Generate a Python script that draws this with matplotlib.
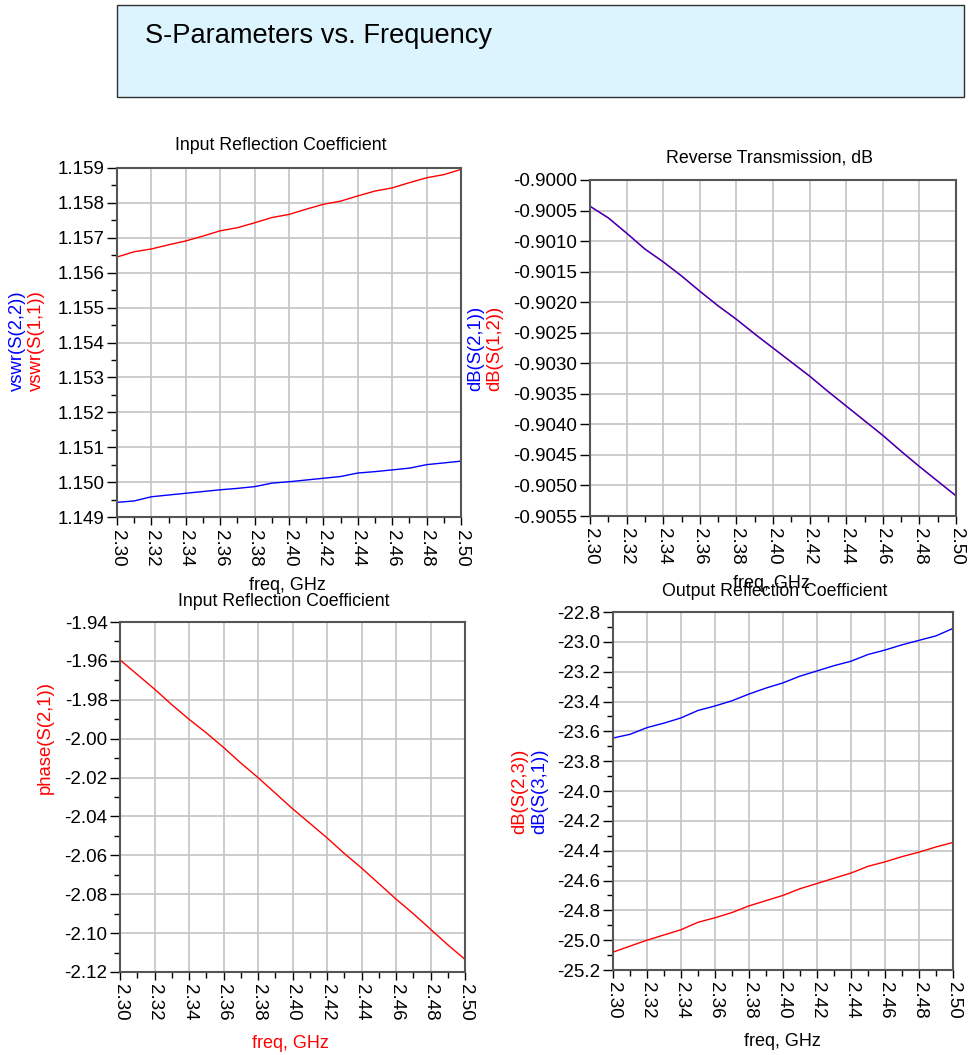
import numpy as np
from matplotlib import pyplot as plt
from matplotlib.patches import Rectangle
from matplotlib.ticker import MultipleLocator, FormatStrFormatter

plt.rcParams['font.family'] = ['Liberation Sans', 'DejaVu Sans']
plt.rcParams['font.size'] = 13
plt.rcParams['xtick.direction'] = 'out'
plt.rcParams['ytick.direction'] = 'out'

# data (freq in GHz)
freq = [2.30, 2.31, 2.32, 2.33, 2.34, 2.35, 2.36, 2.37, 2.38, 2.39, 2.40,
        2.41, 2.42, 2.43, 2.44, 2.45, 2.46, 2.47, 2.48, 2.49, 2.50]

vswr_s11 = [1.15645, 1.15660, 1.15668, 1.15680, 1.15691, 1.15705, 1.15720,
            1.15729, 1.15743, 1.15758, 1.15767, 1.15782, 1.15796, 1.15805,
            1.15820, 1.15834, 1.15843, 1.15858, 1.15872, 1.15881, 1.15896]
vswr_s22 = [1.14942, 1.14946, 1.14958, 1.14963, 1.14968, 1.14973, 1.14978,
            1.14982, 1.14987, 1.14997, 1.15001, 1.15006, 1.15011, 1.15016,
            1.15026, 1.15030, 1.15035, 1.15040, 1.15050, 1.15055, 1.15060]

db_s21 = [-0.90043, -0.90062, -0.90087, -0.90113, -0.90134, -0.90157, -0.90182,
          -0.90206, -0.90228, -0.90252, -0.90275, -0.90298, -0.90321, -0.90346,
          -0.90370, -0.90394, -0.90418, -0.90444, -0.90469, -0.90493, -0.90517]
db_s12 = list(db_s21)

phase_s21 = [-1.9595, -1.9670, -1.9745, -1.9825, -1.9900, -1.9970, -2.0045,
             -2.0125, -2.0200, -2.0280, -2.0360, -2.0435, -2.0510, -2.0590,
             -2.0665, -2.0745, -2.0825, -2.0900, -2.0980, -2.1060, -2.1135]

db_s31 = [-23.645, -23.620, -23.575, -23.545, -23.510, -23.460, -23.430,
          -23.395, -23.350, -23.310, -23.275, -23.230, -23.195, -23.160,
          -23.130, -23.085, -23.055, -23.020, -22.990, -22.960, -22.910]
db_s23 = [-25.080, -25.040, -25.000, -24.965, -24.930, -24.880, -24.850,
          -24.815, -24.770, -24.735, -24.700, -24.655, -24.620, -24.585,
          -24.550, -24.505, -24.475, -24.440, -24.410, -24.375, -24.345]

RED = '#ff0000'
BLUE = '#0000ff'
W, H = 968, 1055
TFS = 12.8   # plot titles
LFS = 13.0   # axis labels
YFS = 13.3   # y labels

fig = plt.figure(figsize=(9.68, 10.55), dpi=100)


def fx(px):
    return px / W


def fy(py):
    return 1 - py / H


def setup(ax, ylim, ymaj, ymin, yfmt):
    ax.set_xlim(2.30, 2.50)
    ax.set_ylim(*ylim)
    ax.xaxis.set_major_locator(MultipleLocator(0.02))
    ax.xaxis.set_minor_locator(MultipleLocator(0.01))
    ax.xaxis.set_major_formatter(FormatStrFormatter('%.2f'))
    ax.yaxis.set_major_locator(MultipleLocator(ymaj))
    if ymin:
        ax.yaxis.set_minor_locator(MultipleLocator(ymin))
    ax.yaxis.set_major_formatter(FormatStrFormatter(yfmt))
    ax.grid(True, which='major', color='#c4c4c4', lw=1.2)
    ax.set_axisbelow(True)
    for s in ax.spines.values():
        s.set_color('#555555')
        s.set_linewidth(1.5)
    ax.tick_params(axis='x', which='major', length=6, width=1, labelrotation=-90, pad=3, labelsize=13.5)
    ax.tick_params(axis='x', which='minor', length=4, width=1)
    ax.tick_params(axis='y', which='major', length=7, width=1, pad=2, labelsize=13.5)
    ax.tick_params(axis='y', which='minor', length=4, width=1)
    for lab in ax.get_xticklabels():
        lab.set_va('top')
        lab.set_ha('center')


# title box
fig.patches.append(Rectangle((fx(117), fy(97)), fx(964) - fx(117), fy(5) - fy(97),
                             transform=fig.transFigure, facecolor='#dcf4fd',
                             edgecolor='#303030', lw=1.0))
fig.text(fx(145), fy(36), 'S-Parameters vs. Frequency', fontsize=19.6, va='center', ha='left')

# top left: VSWR
ax1 = fig.add_axes([fx(117), fy(517), fx(461) - fx(117), fy(168) - fy(517)])
setup(ax1, (1.149, 1.159), 0.001, 0.0005, '%.3f')
ax1.plot(freq, vswr_s11, color=RED, lw=1.0)
ax1.plot(freq, vswr_s22, color=BLUE, lw=1.0)
fig.text(fx(281), fy(145), 'Input Reflection Coefficient', ha='center', va='center', fontsize=TFS)
fig.text(fx(287), fy(585), 'freq, GHz', ha='center', va='center', fontsize=LFS)
fig.text(fx(17), fy(341), 'vswr(S(2,2))', rotation=90, color=BLUE, ha='center', va='center', fontsize=YFS)
fig.text(fx(36), fy(341), 'vswr(S(1,1))', rotation=90, color=RED, ha='center', va='center', fontsize=YFS)

# top right: reverse transmission
ax2 = fig.add_axes([fx(590), fy(516), fx(956) - fx(590), fy(180) - fy(516)])
setup(ax2, (-0.9055, -0.9000), 0.0005, None, '%.4f')
ax2.plot(freq, db_s12, color=RED, lw=1.0)
ax2.plot(freq, db_s21, color=BLUE, lw=1.0, alpha=0.8)
fig.text(fx(769), fy(158), 'Reverse Transmission, dB', ha='center', va='center', fontsize=TFS)
fig.text(fx(771), fy(584), 'freq, GHz', ha='center', va='center', fontsize=LFS)
fig.text(fx(476), fy(348), 'dB(S(2,1))', rotation=90, color=BLUE, ha='center', va='center', fontsize=YFS)
fig.text(fx(495), fy(348), 'dB(S(1,2))', rotation=90, color=RED, ha='center', va='center', fontsize=YFS)

# bottom left: phase
ax3 = fig.add_axes([fx(120), fy(972), fx(465) - fx(120), fy(622) - fy(972)])
setup(ax3, (-2.12, -1.94), 0.02, 0.01, '%.2f')
ax3.plot(freq, phase_s21, color=RED, lw=1.0)
fig.text(fx(284), fy(602), 'Input Reflection Coefficient', ha='center', va='center', fontsize=TFS)
fig.text(fx(290), fy(1043), 'freq, GHz', ha='center', va='center', fontsize=LFS, color=RED)
fig.text(fx(45), fy(738), 'phase(S(2,1))', rotation=90, color=RED, ha='center', va='center', fontsize=YFS)

# bottom right: output reflection
ax4 = fig.add_axes([fx(613), fy(970), fx(953) - fx(613), fy(612) - fy(970)])
setup(ax4, (-25.2, -22.8), 0.2, 0.1, '%.1f')
ax4.plot(freq, db_s31, color=BLUE, lw=1.0)
ax4.plot(freq, db_s23, color=RED, lw=1.0)
fig.text(fx(775), fy(591), 'Output Reflection Coefficient', ha='center', va='center', fontsize=TFS)
fig.text(fx(782), fy(1042), 'freq, GHz', ha='center', va='center', fontsize=LFS)
fig.text(fx(520), fy(791), 'dB(S(2,3))', rotation=90, color=RED, ha='center', va='center', fontsize=YFS)
fig.text(fx(540), fy(791), 'dB(S(3,1))', rotation=90, color=BLUE, ha='center', va='center', fontsize=YFS)

fig.savefig('out.png', dpi=100)
